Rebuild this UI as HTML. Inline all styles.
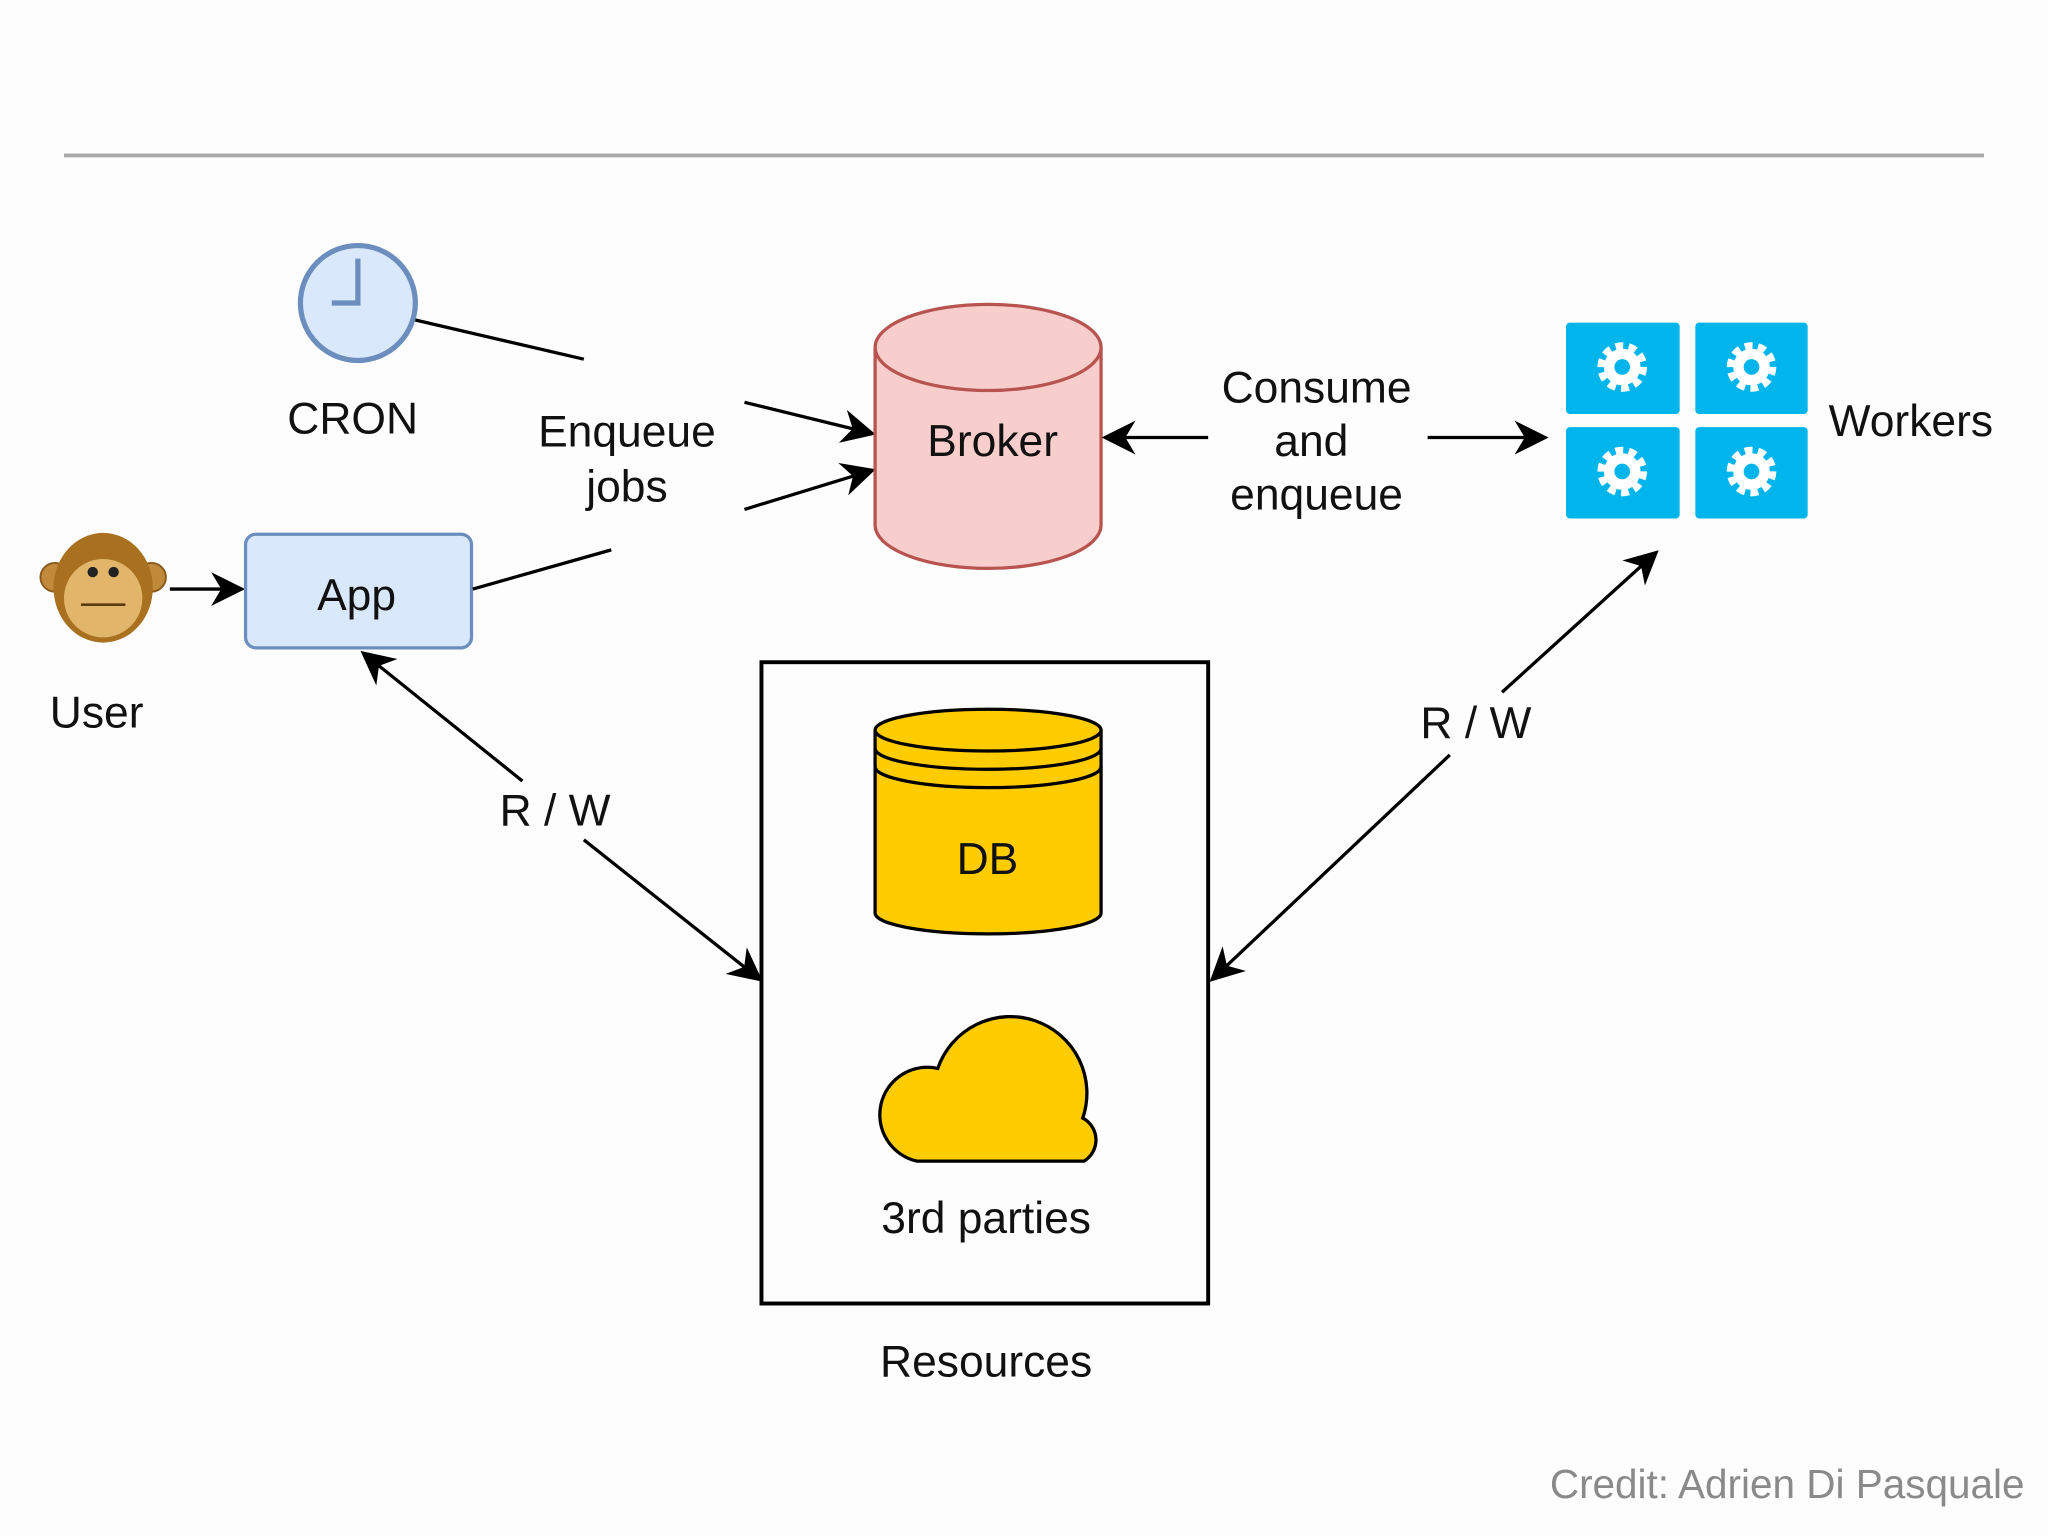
<!DOCTYPE html>
<html><head><meta charset="utf-8"><style>
html,body{margin:0;padding:0;background:#fdfdfd;}
svg{display:block}
text{font-family:"Liberation Sans",sans-serif;fill:#111;}
</style></head><body>
<svg width="2048" height="1536" viewBox="0 0 1568 1176" xmlns="http://www.w3.org/2000/svg">
<defs>
<marker id="a" viewBox="0 0 20 20" refX="18" refY="10" markerWidth="26" markerHeight="26" markerUnits="userSpaceOnUse" orient="auto">
<path d="M0,0 L20,10 L0,20 L6,10 Z" fill="#000"/>
</marker>
</defs>
<rect width="1568" height="1176" fill="#fdfdfd"/>
<line x1="49" y1="119" x2="1519" y2="119" stroke="#aaa" stroke-width="3"/>

<circle cx="274" cy="232" r="44" fill="#dae8fc" stroke="#6c8ebf" stroke-width="4"/>
<polyline points="274,198 274,232 254,232" fill="none" stroke="#6c8ebf" stroke-width="4"/>
<text x="270" y="332" font-size="34" text-anchor="middle">CRON</text>
<line x1="318" y1="245" x2="447" y2="275" stroke="#000" stroke-width="2.5"/>

<text x="480" y="342" font-size="34" text-anchor="middle">Enqueue</text>
<text x="480" y="384" font-size="34" text-anchor="middle">jobs</text>
<line x1="570" y1="308" x2="668" y2="332" stroke="#000" stroke-width="2.5" marker-end="url(#a)"/>
<line x1="570" y1="390" x2="668" y2="360" stroke="#000" stroke-width="2.5" marker-end="url(#a)"/>

<path d="M670,266 L670,402 A86,33 0 0 0 843,402 L843,266" fill="#f8cecc" stroke="#b85450" stroke-width="2.5"/>
<ellipse cx="756.5" cy="266" rx="86.5" ry="33" fill="#f8cecc" stroke="#b85450" stroke-width="2.5"/>
<text x="760" y="349" font-size="34" text-anchor="middle">Broker</text>

<line x1="925" y1="335" x2="846" y2="335" stroke="#000" stroke-width="2.5" marker-end="url(#a)"/>
<text x="1008" y="308" font-size="34" text-anchor="middle">Consume</text>
<text x="1004" y="349" font-size="34" text-anchor="middle">and</text>
<text x="1008" y="390" font-size="34" text-anchor="middle">enqueue</text>
<line x1="1093" y1="335" x2="1183" y2="335" stroke="#000" stroke-width="2.5" marker-end="url(#a)"/>

<g fill="#00b4ec">
<rect x="1199" y="247" width="87" height="70" rx="3"/>
<rect x="1298" y="247" width="86" height="70" rx="3"/>
<rect x="1199" y="327" width="87" height="70" rx="3"/>
<rect x="1298" y="327" width="86" height="70" rx="3"/>
</g>
<g fill="none" stroke="#fff">
<g transform="translate(1242,281)"><circle r="15" stroke-width="8" stroke-dasharray="5.5 3.9"/><circle r="10" stroke-width="8"/></g>
<g transform="translate(1341,281)"><circle r="15" stroke-width="8" stroke-dasharray="5.5 3.9"/><circle r="10" stroke-width="8"/></g>
<g transform="translate(1242,361)"><circle r="15" stroke-width="8" stroke-dasharray="5.5 3.9"/><circle r="10" stroke-width="8"/></g>
<g transform="translate(1341,361)"><circle r="15" stroke-width="8" stroke-dasharray="5.5 3.9"/><circle r="10" stroke-width="8"/></g>
</g>
<text x="1463" y="334" font-size="34" text-anchor="middle">Workers</text>

<g>
<circle cx="42" cy="442" r="11" fill="#c08a3a" stroke="#8a5a1a" stroke-width="1.5"/>
<circle cx="116" cy="442" r="11" fill="#c08a3a" stroke="#8a5a1a" stroke-width="1.5"/>
<ellipse cx="79" cy="450" rx="38" ry="42" fill="#a8701f"/>
<ellipse cx="79" cy="458" rx="30" ry="30" fill="#e2b66a"/>
<circle cx="71" cy="438" r="4" fill="#222"/>
<circle cx="87" cy="438" r="4" fill="#222"/>
<line x1="62" y1="463" x2="96" y2="463" stroke="#5a3a10" stroke-width="2"/>
</g>
<text x="74" y="557" font-size="34" text-anchor="middle">User</text>
<line x1="130" y1="451" x2="185" y2="451" stroke="#000" stroke-width="2.5" marker-end="url(#a)"/>

<rect x="188" y="409" width="173" height="87" rx="8" fill="#dae8fc" stroke="#6c8ebf" stroke-width="2.5"/>
<text x="273" y="467" font-size="34" text-anchor="middle">App</text>
<line x1="362" y1="451" x2="468" y2="421" stroke="#000" stroke-width="2.5"/>

<line x1="400" y1="598" x2="278" y2="500" stroke="#000" stroke-width="2.5" marker-end="url(#a)"/>
<line x1="447" y1="643" x2="582" y2="750" stroke="#000" stroke-width="2.5" marker-end="url(#a)"/>
<text x="425" y="632" font-size="34" text-anchor="middle">R / W</text>

<rect x="583" y="507" width="342" height="491" fill="none" stroke="#000" stroke-width="3"/>
<text x="755" y="1054" font-size="34" text-anchor="middle">Resources</text>

<path d="M670,559 L670,699 A86.5,16 0 0 0 843,699 L843,559" fill="#ffcc00" stroke="#000" stroke-width="2.5"/>
<path d="M670,573 A86.5,16 0 0 0 843,573 M670,587 A86.5,16 0 0 0 843,587" fill="none" stroke="#000" stroke-width="2.5"/>
<ellipse cx="756.5" cy="559" rx="86.5" ry="16" fill="#ffcc00" stroke="#000" stroke-width="2.5"/>
<text x="756" y="669" font-size="34" text-anchor="middle">DB</text>

<path d="M702,889 A36,36 0 0 1 718,818 A58,58 0 0 1 829,856 A19,19 0 0 1 830,889 Z" fill="#ffcc00" stroke="#000" stroke-width="2.5"/>
<text x="755" y="944" font-size="34" text-anchor="middle">3rd parties</text>

<line x1="1110" y1="578" x2="928" y2="750" stroke="#000" stroke-width="2.5" marker-end="url(#a)"/>
<line x1="1150" y1="530" x2="1268" y2="423" stroke="#000" stroke-width="2.5" marker-end="url(#a)"/>
<text x="1130" y="565" font-size="34" text-anchor="middle">R / W</text>

<text x="1550" y="1147" font-size="31" text-anchor="end" style="fill:#8a8a8a">Credit: Adrien Di Pasquale</text>
</svg>
</body></html>
